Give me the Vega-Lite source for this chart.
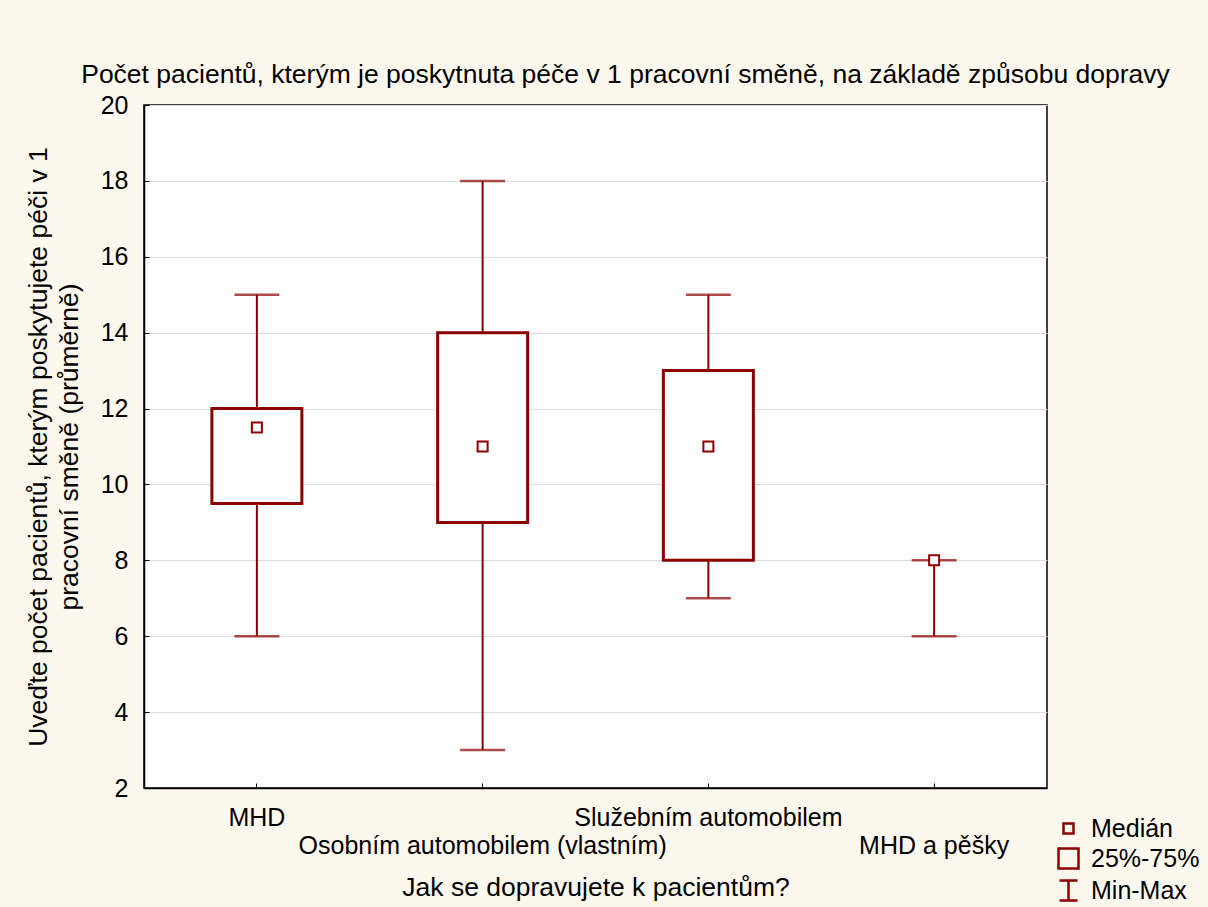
{
  "$schema": "https://vega.github.io/schema/vega-lite/v6.json",
  "autosize": "none",
  "width": 903,
  "height": 683,
  "padding": {"left": 144, "top": 105, "right": 161, "bottom": 119},
  "background": "#fdf8ee",
  "config": {
    "font": "Liberation Sans",
    "view": {"fill": "white", "stroke": "black", "strokeWidth": 1.5},
    "axis": {"labelFont": "Liberation Sans", "titleFont": "Liberation Sans", "labelColor": "black", "titleColor": "black", "titleFontWeight": "normal", "labelFontSize": 25, "titleFontSize": 26.5, "domainColor": "black", "tickColor": "black", "labelLimit": 0},
    "legend": {"symbolOpacity": 1}
  },
  "title": {"text": "Počet pacientů, kterým je poskytnuta péče v 1 pracovní směně, na základě způsobu dopravy", "fontSize": 26.5, "fontWeight": "normal", "font": "Liberation Sans", "color": "black", "dx": 30, "offset": 5},
  "datasets": {
    "stats": [
      {"doprava": "MHD", "min": 6, "q1": 9.5, "median": 11.5, "q3": 12, "max": 15},
      {"doprava": "Osobním automobilem (vlastním)", "min": 3, "q1": 9, "median": 11, "q3": 14, "max": 18},
      {"doprava": "Služebním automobilem", "min": 7, "q1": 8, "median": 11, "q3": 13, "max": 15},
      {"doprava": "MHD a pěšky", "min": 6, "q1": 8, "median": 8, "q3": 8, "max": 8}
    ],
    "legendItems": [
      {"legend": "Medián"},
      {"legend": "25%-75%"},
      {"legend": "Min-Max"}
    ]
  },
  "data": {"name": "stats"},
  "encoding": {
    "x": {
      "field": "doprava", "type": "nominal", "sort": null,
      "scale": {"paddingInner": 0, "paddingOuter": 0},
      "axis": {
        "title": "Jak se dopravujete k pacientům?",
        "labelAngle": 0,
        "grid": false,
        "tickSize": -5,
        "tickWidth": 1,
        "domainWidth": 1.5,
        "labelPadding": {"expr": "datum.value === 'Osobním automobilem (vlastním)' || datum.value === 'MHD a pěšky' ? 50 : 22"},
        "labelBaseline": "top",
        "titleY": 107,
        "titleBaseline": "alphabetic"
      }
    }
  },
  "layer": [
    {
      "mark": {"type": "rule", "color": "#8b0000", "strokeWidth": 2},
      "encoding": {
        "y": {"field": "min", "type": "quantitative", "scale": {"domain": [2, 20], "nice": false, "zero": false},
          "axis": {"title": ["Uveďte počet pacientů, kterým poskytujete péči v 1", "pracovní směně (průměrně)"], "values": [2, 4, 6, 8, 10, 12, 14, 16, 18, 20], "grid": true, "gridColor": "#dddddd", "gridWidth": 1, "tickSize": -5, "tickWidth": 1, "domainWidth": 1.5, "labelPadding": 21, "titleLineHeight": 31, "titlePadding": 17}},
        "y2": {"field": "max"}
      }
    },
    {
      "transform": [{"filter": "datum.q3 > datum.q1"}],
      "mark": {"type": "bar", "width": 90, "fill": "white", "stroke": "#8b0000", "strokeWidth": 3},
      "encoding": {
        "y": {"field": "q1", "type": "quantitative"},
        "y2": {"field": "q3"}
      }
    },
    {
      "mark": {"type": "tick", "color": "#8b0000", "size": 45, "thickness": 2.5},
      "encoding": {"y": {"field": "min", "type": "quantitative"}}
    },
    {
      "mark": {"type": "tick", "color": "#8b0000", "size": 45, "thickness": 2.5},
      "encoding": {"y": {"field": "max", "type": "quantitative"}}
    },
    {
      "mark": {"type": "point", "shape": "square", "size": 100, "filled": false, "fill": "white", "stroke": "#8b0000", "strokeWidth": 2, "opacity": 1},
      "encoding": {"y": {"field": "median", "type": "quantitative"}}
    },
    {
      "data": {"name": "legendItems"},
      "mark": {"type": "point", "filled": false, "color": "#8b0000", "opacity": 0},
      "encoding": {
        "x": {"value": 0},
        "y": {"value": 0},
        "shape": {
          "field": "legend", "type": "nominal",
          "scale": {"domain": ["Medián", "25%-75%", "Min-Max"], "range": ["M-0.5,-0.5H0.5V0.5H-0.5Z", "M-1,-1H1V1H-1Z", "M-0.9,-1H0.9M0,-1V1M-0.9,1H0.9"]},
          "legend": {"title": null, "orient": "none", "legendX": 912, "legendY": 711, "symbolSize": 400, "symbolStrokeColor": "#8b0000", "symbolFillColor": "transparent", "symbolStrokeWidth": 2.5, "labelFontSize": 25, "labelFont": "Liberation Sans", "labelColor": "black", "rowPadding": 1, "labelOffset": 10}
        }
      }
    }
  ]
}
